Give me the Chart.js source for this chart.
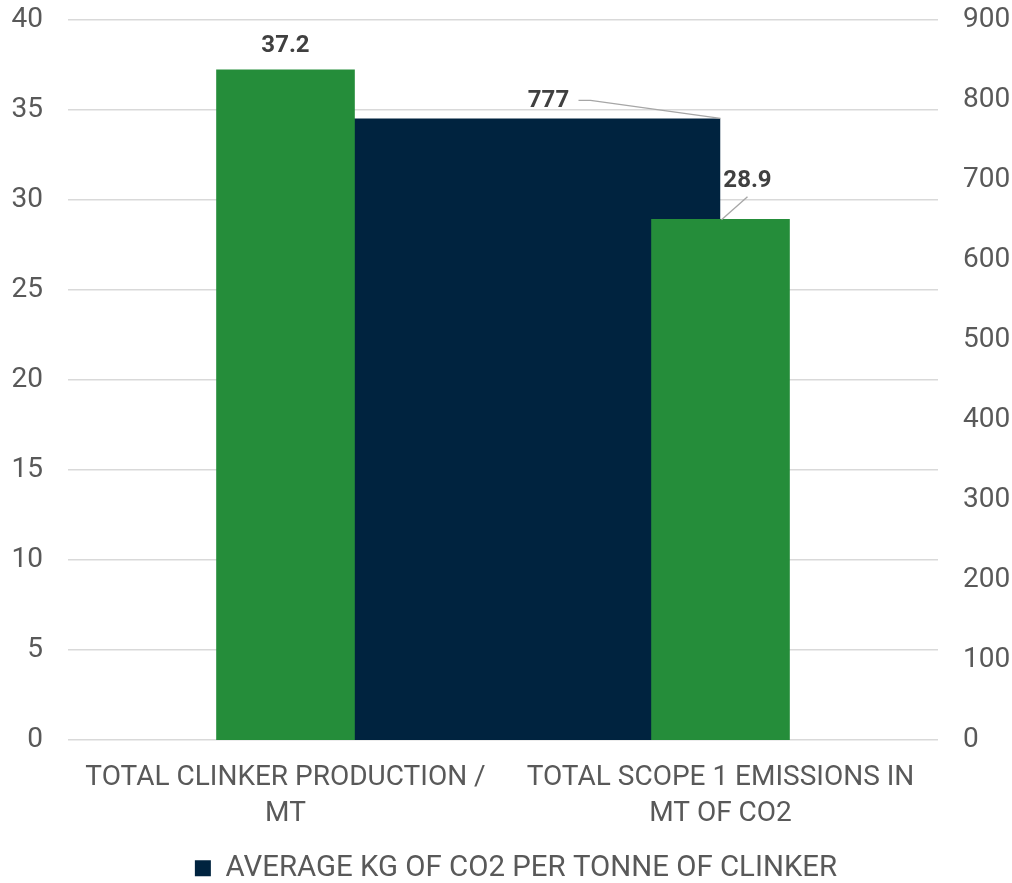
<!DOCTYPE html>
<html>
<head>
<meta charset="utf-8">
<script src="https://cdn.jsdelivr.net/npm/chart.js@4.4.0/dist/chart.umd.min.js"></script>
<style>
html,body{margin:0;padding:0;background:#fff;}
#wrap{width:1012px;height:883px;position:relative;}
</style>
</head>
<body>
<div id="wrap"><canvas id="c"></canvas></div>
<script>
const categories = [["TOTAL CLINKER PRODUCTION /", "MT"], ["TOTAL SCOPE 1 EMISSIONS IN", "MT OF CO2"]];
const mtValues = [37.2, 28.9];
const avgKgLabel = "AVERAGE KG OF CO2 PER TONNE OF CLINKER";
const avgKgValues = [777, 777];
const leftTicks = [0, 5, 10, 15, 20, 25, 30, 35, 40];
const rightTicks = [0, 100, 200, 300, 400, 500, 600, 700, 800, 900];

const GREEN = '#258D3A';
const NAVY = '#00233F';
const TXT = '#595959';
const LBL = '#404040';
const LEAD = '#A6A6A6';

const labelPlugin = {
  id: 'dataLabels',
  beforeDraw(chart) {
    // nudge legend to sit like the original
    chart.legend.left = 20;
    chart.legend.top = chart.height - chart.legend.height + 10;
  },
  afterDatasetsDraw(chart) {
    const ctx = chart.ctx;
    ctx.save();
    ctx.font = 'bold 24px Roboto';
    ctx.fillStyle = LBL;
    ctx.textAlign = 'center';
    ctx.textBaseline = 'middle';
    const bm = chart.getDatasetMeta(0);
    bm.data.forEach((el, i) => {
      const txt = mtValues[i].toFixed(1);
      if (i === 0) {
        ctx.fillText(txt, el.x, el.y - 24);
      } else {
        const lx = el.x + 27, ly = el.y - 39;
        ctx.fillText(txt, lx, ly);
        ctx.strokeStyle = LEAD; ctx.lineWidth = 1.3;
        ctx.beginPath();
        ctx.moveTo(lx, ly + 16);
        ctx.lineTo(el.x + 1, el.y);
        ctx.stroke();
      }
    });
    const lm = chart.getDatasetMeta(1);
    const p = lm.data[1];
    const lx = p.x - 172, ly = p.y - 17;
    ctx.fillText(String(avgKgValues[1]), lx, ly);
    ctx.strokeStyle = LEAD; ctx.lineWidth = 1.3;
    ctx.beginPath();
    ctx.moveTo(lx + 30, ly - 1);
    ctx.lineTo(lx + 42, ly - 1);
    ctx.lineTo(p.x, p.y);
    ctx.stroke();
    ctx.restore();
  }
};

const fitY = (w) => (s) => { s.paddingTop = 0; s.paddingBottom = 0; s.width = w; };

new Chart(document.getElementById('c'), {
  data: {
    labels: categories,
    datasets: [
      {
        type: 'bar',
        label: 'MT',
        data: mtValues,
        backgroundColor: GREEN,
        yAxisID: 'y',
        categoryPercentage: 1.0,
        barPercentage: 0.315,
        inflateAmount: 0.8,
        order: 1
      },
      {
        type: 'line',
        label: avgKgLabel,
        data: avgKgValues,
        yAxisID: 'y1',
        backgroundColor: NAVY,
        borderColor: NAVY,
        borderWidth: 0,
        pointRadius: 0,
        fill: 'origin',
        order: 2
      }
    ]
  },
  options: {
    responsive: true,
    maintainAspectRatio: false,
    animation: false,
    devicePixelRatio: 1,
    layout: { autoPadding: false, padding: { left: 0, right: 0, top: 20, bottom: 0 } },
    plugins: {
      tooltip: { enabled: false },
      legend: {
        position: 'bottom',
        labels: {
          boxWidth: 16,
          boxHeight: 16,
          color: TXT,
          font: { family: 'Roboto', size: 29.4 },
          padding: 1,
          generateLabels: () => [{
            text: avgKgLabel,
            fillStyle: NAVY,
            strokeStyle: NAVY,
            lineWidth: 0,
            datasetIndex: 1,
            fontColor: TXT
          }]
        }
      }
    },
    scales: {
      x: {
        grid: { display: false },
        border: { display: false },
        afterFit: (s) => { s.paddingLeft = 0; s.paddingRight = 0; s.height = 102.6; },
        ticks: {
          color: TXT,
          font: { family: 'Roboto', size: 28, lineHeight: 1.28 },
          padding: 12,
          maxRotation: 0,
          autoSkip: false
        }
      },
      y: {
        position: 'left',
        min: 0, max: 40,
        afterBuildTicks: (s) => { s.ticks = leftTicks.map(v => ({ value: v })); },
        afterFit: fitY(68),
        grid: { color: '#D9D9D9', lineWidth: 1.5, drawTicks: false },
        border: { display: false },
        ticks: { color: TXT, font: { family: 'Roboto', size: 28 }, padding: 25 }
      },
      y1: {
        position: 'right',
        min: 0, max: 900,
        afterBuildTicks: (s) => { s.ticks = rightTicks.map(v => ({ value: v })); },
        afterFit: fitY(74),
        grid: { display: false, drawTicks: false },
        border: { display: false },
        ticks: { color: TXT, font: { family: 'Roboto', size: 28 }, padding: 25 }
      }
    }
  },
  plugins: [labelPlugin]
});
</script>
</body>
</html>
